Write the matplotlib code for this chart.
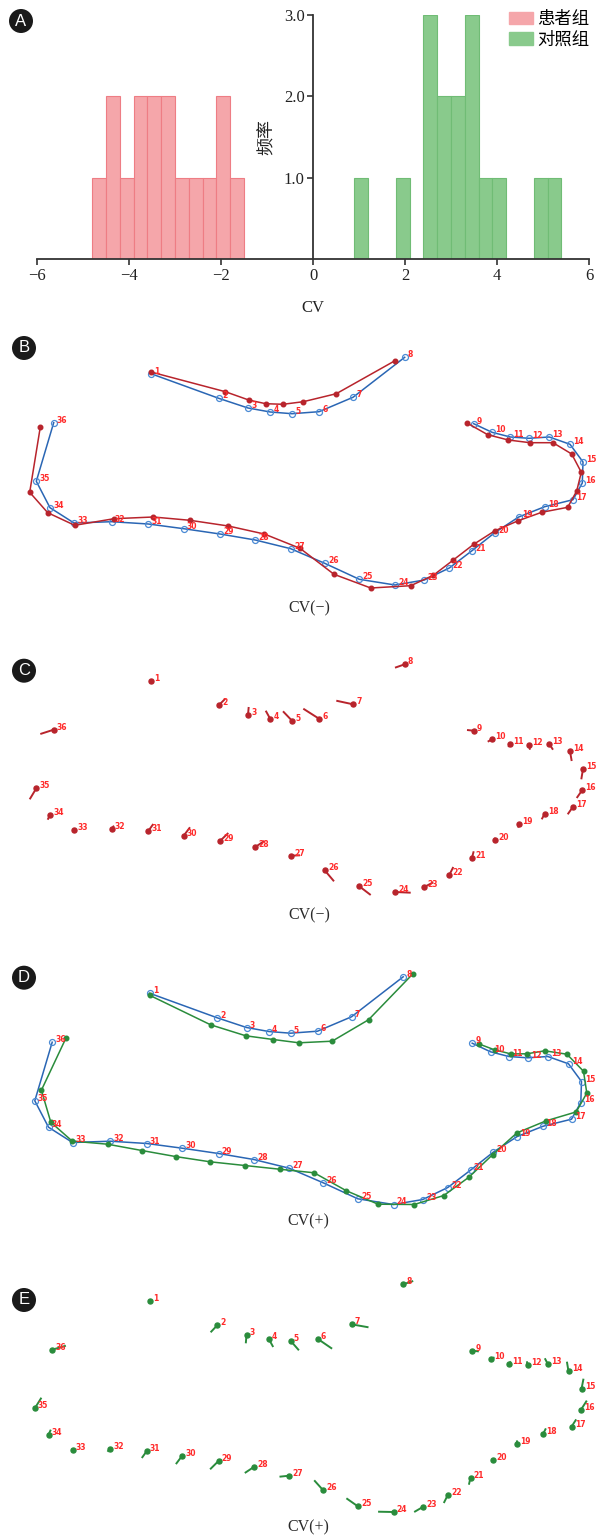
import numpy as np
import matplotlib.pyplot as plt
from matplotlib.patches import Patch, Circle

W, H = 603, 1539

# ---- panel A: histogram of CV (bin left edges + counts, width 0.3)
pat_left = [-4.8, -4.5, -4.2, -3.9, -3.6, -3.3, -3.0, -2.7, -2.4, -2.1, -1.8]
pat_count = [1, 2, 1, 2, 2, 2, 1, 1, 1, 2, 1]
ctl_left = [0.9, 1.8, 2.4, 2.7, 3.0, 3.3, 3.6, 3.9, 4.8, 5.1]
ctl_count = [1, 1, 3, 2, 2, 3, 1, 1, 1, 1]
bin_w = 0.3
x_ticks = [-6, -4, -2, 0, 2, 4, 6]
y_ticks = [1.0, 2.0, 3.0]

# ---- landmarks 1..36 (image units, y down)
mean_x = [151, 218.7, 248, 270.3, 292, 319, 353, 404.7, 473.7, 492, 510.3, 529, 549.3, 570, 583, 582.3,
          573, 544.7, 518.7, 494.7, 472, 449.3, 424.3, 395, 359.3, 324.7, 290.7, 255.3, 220, 183.7,
          148.3, 111.7, 74, 50, 36.3, 53.7]
mean_y = [373.7, 398.3, 408, 412, 413.7, 411.7, 397.3, 357.3, 423.7, 432.3, 437, 438.3, 437, 444.3, 462,
          483, 499.7, 506.7, 517, 532.7, 550.7, 568, 580, 585, 579.3, 563.3, 548.7, 540, 534, 528.7,
          524, 521.7, 523, 507.7, 481.3, 422.7]
neg_x = [151, 225.3, 248.7, 265.7, 283, 303.3, 336.3, 395, 467, 487.7, 508.3, 530, 553, 571.7, 581.3,
         576.7, 567.7, 541.7, 518.3, 495, 473.7, 453.3, 433.3, 410.7, 370.7, 334, 300, 264.3, 228.3,
         190, 153.3, 114, 74.7, 47.7, 29.7, 40.3]
neg_y = [372, 391.7, 400, 403.7, 404.3, 401.7, 393.7, 360.7, 423, 434.7, 440, 442.7, 442.7, 454, 472.3,
         491, 507.3, 512.3, 520.7, 530.7, 544.3, 560, 575.3, 585.7, 588, 574.3, 548.3, 534, 526, 520.3,
         517, 518.7, 525.3, 512.7, 492.3, 427]
pos_x = [151, 212.1, 247.3, 274.7, 300.4, 333.6, 370, 414.7, 480.3, 496, 512.3, 528.4, 546.3, 568.4,
         585, 588.3, 577.7, 547.4, 518.4, 494.3, 470.4, 445.3, 415.7, 379.6, 347.9, 315.7, 281, 246.3,
         211.6, 177.4, 143.3, 109, 73.7, 52.3, 42.9, 67.4]
pos_y = [375.7, 405.3, 416.3, 420, 423.3, 421.7, 400.3, 354, 424.4, 430.3, 434.4, 434.3, 431.3, 434.7,
         451.7, 473.6, 492.4, 501.4, 513.4, 535, 557.7, 576, 585, 584.7, 571.3, 553.3, 549.7, 546, 542.3,
         537.1, 531, 524.7, 521.6, 502.7, 470.7, 418.7]
contours = [slice(0, 8), slice(8, 36)]

BLUE_L, BLUE_M = '#2a66b4', '#4a8ad4'
RED = '#b8242c'
GREEN = '#2a8c3c'
LAB = '#ff2a2a'
SERIF = 'Liberation Serif'
CJK = 'Noto Sans CJK SC'

fig = plt.figure(figsize=(W / 100, H / 100), dpi=100)

# ---------------- panel A
axA = fig.add_axes([37 / W, 1 - 259.3 / H, 552 / W, (259.3 - 15) / H])
axA.bar(pat_left, pat_count, width=bin_w, align='edge', color='#f5a6aa', edgecolor='#ee7d84', linewidth=0.8)
axA.bar(ctl_left, ctl_count, width=bin_w, align='edge', color='#89ca8c', edgecolor='#70bc75', linewidth=0.8)
axA.set_xlim(-6, 6)
axA.set_ylim(0, 3.0)
for s in ['top', 'right']:
    axA.spines[s].set_visible(False)
axA.spines['left'].set_position(('data', 0))
for s in ['left', 'bottom']:
    axA.spines[s].set_color('#333333')
    axA.spines[s].set_linewidth(1.3)
axA.set_xticks(x_ticks)
axA.set_xticklabels([f'{t}'.replace('-', '\u2212') for t in x_ticks])
axA.set_yticks(y_ticks)
axA.set_yticklabels([f'{t:.1f}' for t in y_ticks])
axA.tick_params(direction='out', length=4, width=1.2, color='#333333', labelsize=12, pad=2)
for lbl in axA.get_xticklabels() + axA.get_yticklabels():
    lbl.set_fontfamily(SERIF)
    lbl.set_color('#222222')
axA.text(-1.0, 1.5, '频率', rotation=90, fontfamily=CJK, fontsize=13, ha='center', va='center', color='#222222')
fig.text(313 / W, 1 - 308 / H, 'CV', fontfamily=SERIF, fontsize=12, ha='center', va='center', color='#222222')
handles = [Patch(facecolor='#f5a6aa', edgecolor='#f5a6aa'), Patch(facecolor='#89ca8c', edgecolor='#89ca8c')]
axA.legend(handles, ['患者组', '对照组'], loc='upper left', bbox_to_anchor=(509 / W, 1 - 10 / H),
           bbox_transform=fig.transFigure, frameon=False, prop={'family': [CJK], 'size': 12.5},
           handlelength=1.4, handleheight=0.75, handletextpad=0.2, labelspacing=0.15,
           borderaxespad=0, borderpad=0)


# ---------------- shape panels
def shape_axes(top, dx):
    ax = fig.add_axes([0, 1 - (top + 290) / H, 1, 290 / H])
    ax.set_xlim(-dx, W - dx)
    ax.set_ylim(620, 330)
    ax.axis('off')
    return ax


def numbers(ax):
    for i in range(36):
        ax.text(mean_x[i] + 3.2, mean_y[i] - 2.5, str(i + 1), color=LAB, fontsize=5.5,
                fontweight='bold', ha='left', va='center')


def outline(ax, gx, gy, col):
    for sl in contours:
        ax.plot(mean_x[sl], mean_y[sl], color=BLUE_L, lw=1.1, marker='o', mfc='none',
                mec=BLUE_M, ms=4.3, mew=0.9, zorder=2)
        ax.plot(gx[sl], gy[sl], color=col, lw=1.1, marker='o', ms=3.3, mec=col, zorder=3)
    numbers(ax)


def vectors(ax, gx, gy, col):
    for i in range(36):
        ax.plot([mean_x[i], gx[i]], [mean_y[i], gy[i]], color=col, lw=1.4, solid_capstyle='butt')
    ax.plot(mean_x, mean_y, 'o', color=col, ms=3.6, lw=0)
    numbers(ax)


cv_style = dict(fontfamily=SERIF, fontsize=11.5, ha='center', va='center', color='#2a2a2a')

axB = shape_axes(330, 0)
outline(axB, neg_x, neg_y, RED)
axB.text(309, 608, 'CV(\u2212)', **cv_style)

axC = shape_axes(637, 0)
vectors(axC, neg_x, neg_y, RED)
axC.text(309, 608, 'CV(\u2212)', **cv_style)

axD = shape_axes(949.5, -1.5)
outline(axD, pos_x, pos_y, GREEN)
axD.text(310, 601.5, 'CV(+)', **cv_style)

axE = shape_axes(1257, -1.5)
vectors(axE, pos_x, pos_y, GREEN)
axE.text(310, 600, 'CV(+)', **cv_style)

# panel letters
for letter, cx, cy in [('A', 21, 21), ('B', 24, 348), ('C', 24, 670.7), ('D', 24, 977.7), ('E', 24, 1300)]:
    fig.add_artist(Circle((cx / 100, (H - cy) / 100), 0.12, transform=fig.dpi_scale_trans,
                          facecolor='#1a1a1a', edgecolor='none'))
    fig.text(cx / W, 1 - cy / H, letter, color='white', fontsize=12, fontfamily='Liberation Sans',
             ha='center', va='center')

fig.savefig('out.png', dpi=100)
